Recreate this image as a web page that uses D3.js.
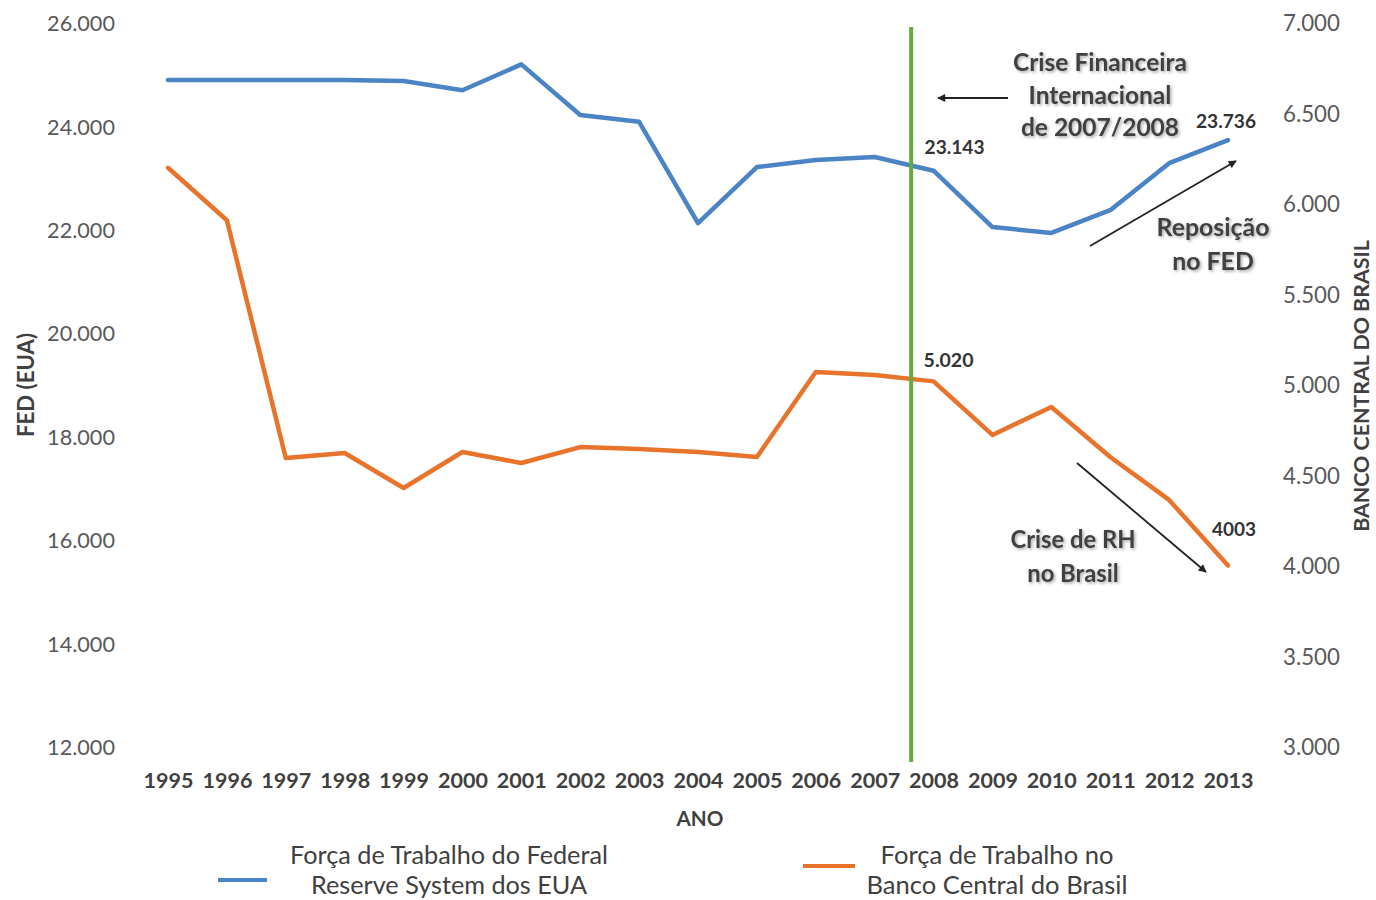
<!DOCTYPE html>
<html><head><meta charset="utf-8">
<script src="https://cdn.jsdelivr.net/npm/d3@7"></script>
<style>
html,body{margin:0;padding:0;background:#fff;}
svg{display:block;font-family:Lato,"Open Sans",sans-serif;}
</style></head><body>
<svg id="chart" width="1376" height="900"></svg>
<script>
// ---------- data ----------
const years = [1995,1996,1997,1998,1999,2000,2001,2002,2003,2004,2005,2006,2007,2008,2009,2010,2011,2012,2013];
const fedValues = [24900,24900,24900,24900,24880,24700,25200,24220,24090,22130,23215,23350,23410,23143,22055,21940,22380,23290,23736];
const bcbValues = [6200,5910,4597,4624,4431,4630,4569,4657,4646,4630,4602,5072,5055,5020,4724,4878,4602,4365,4003];
const leftTicks = [12000,14000,16000,18000,20000,22000,24000,26000];
const rightTicks = [3000,3500,4000,4500,5000,5500,6000,6500,7000];
const fedName = ["Força de Trabalho do Federal","Reserve System dos EUA"];
const bcbName = ["Força de Trabalho no","Banco Central do Brasil"];
const crisisYear = 2007.62;
const fedLabels = [{year:2008,text:"23.143"},{year:2013,text:"23.736"}];
const bcbLabels = [{year:2008,text:"5.020"},{year:2013,text:"4003"}];

// ---------- setup ----------
const svg = d3.select("#chart");
const C = {blue:"#4a84c4", orange:"#e8732a", green:"#62ad3c", tick:"#595959", dark:"#404040"};
const loc = d3.formatLocale({decimal:",",thousands:".",grouping:[3],currency:["R$",""]});
const fmt = loc.format(",d");

const x = d3.scaleLinear().domain([1995,2013]).range([168,1228]);
const yL = d3.scaleLinear().domain([12000,26000]).range([747,23]);
const yR = d3.scaleLinear().domain([3000,7000]).range([747,23]);

function fit(sel, target){
  sel.attr("font-size",20);
  const w = sel.node().getComputedTextLength();
  const s = 20*target/w;
  sel.attr("font-size",s);
  return s;
}

const defs = svg.append("defs");
const f = defs.append("filter").attr("id","sh").attr("x","-20%").attr("y","-40%").attr("width","140%").attr("height","180%");
f.append("feDropShadow").attr("dx",1.5).attr("dy",1.5).attr("stdDeviation",1.6).attr("flood-color","#000").attr("flood-opacity",0.35);
defs.append("marker").attr("id","arr").attr("viewBox","0 0 10 10").attr("refX",9).attr("refY",5)
  .attr("markerWidth",10).attr("markerHeight",8).attr("markerUnits","userSpaceOnUse").attr("orient","auto")
  .append("path").attr("d","M0,0 L10,5 L0,10 z").attr("fill","#222");

// ---------- axes ----------
const gL = svg.append("g").attr("transform","translate(115,0)")
  .call(d3.axisLeft(yL).tickValues(leftTicks).tickFormat(fmt).tickSize(0).tickPadding(0));
gL.select(".domain").remove();
gL.selectAll("text").attr("fill",C.tick).attr("font-family","Lato").attr("dy","0.35em");
const sL = fit(gL.selectAll("text").filter(d=>d===26000), 68);
gL.selectAll("text").attr("font-size",sL);

const gR = svg.append("g").attr("transform","translate(1283,0)")
  .call(d3.axisRight(yR).tickValues(rightTicks).tickFormat(fmt).tickSize(0).tickPadding(0));
gR.select(".domain").remove();
gR.selectAll("text").attr("fill",C.tick).attr("font-family","Lato").attr("dy","0.35em");
const sR = fit(gR.selectAll("text").filter(d=>d===5500), 57);
gR.selectAll("text").attr("font-size",sR);

const gB = svg.append("g").attr("transform","translate(0,780)")
  .call(d3.axisBottom(x).tickValues(years).tickFormat(d3.format("d")).tickSize(0).tickPadding(0));
gB.select(".domain").remove();
gB.selectAll("text").attr("fill",C.dark).attr("font-family","Lato").attr("font-weight",700).attr("y",0).attr("dy","0.35em");
const sB = fit(gB.selectAll("text").filter(d=>d===1995), 50);
gB.selectAll("text").attr("font-size",sB);

// axis titles
const ano = svg.append("text").attr("x",700).attr("y",819).attr("dy","0.35em").attr("text-anchor","middle")
  .attr("font-weight",700).attr("fill",C.dark).text("ANO");
fit(ano,47);
const fedT = svg.append("text").attr("transform","translate(26,385) rotate(-90)").attr("dy","0.35em")
  .attr("text-anchor","middle").attr("font-weight",700).attr("fill",C.dark).text("FED (EUA)");
fit(fedT,104);
const bcbT = svg.append("text").attr("transform","translate(1362,386) rotate(-90)").attr("dy","0.35em")
  .attr("text-anchor","middle").attr("font-weight",700).attr("fill",C.dark).text("BANCO CENTRAL DO BRASIL");
fit(bcbT,292);

// ---------- lines ----------
const lineL = d3.line().x((d,i)=>x(years[i])).y(d=>yL(d));
const lineR = d3.line().x((d,i)=>x(years[i])).y(d=>yR(d));
svg.append("path").datum(fedValues).attr("d",lineL).attr("fill","none").attr("stroke",C.blue)
  .attr("stroke-width",4.5).attr("stroke-linejoin","round").attr("stroke-linecap","round");
svg.append("path").datum(bcbValues).attr("d",lineR).attr("fill","none").attr("stroke",C.orange)
  .attr("stroke-width",4.5).attr("stroke-linejoin","round").attr("stroke-linecap","round");

// crisis marker
svg.append("line").attr("x1",x(crisisYear)).attr("x2",x(crisisYear)).attr("y1",27).attr("y2",762)
  .attr("stroke",C.green).attr("stroke-width",4);

// ---------- value labels ----------
function valLabel(px,py,t,w){
  const s = svg.append("text").attr("x",px).attr("y",py).attr("dy","0.35em").attr("text-anchor","middle")
    .attr("font-weight",700).attr("fill","#333").text(t);
  fit(s,w);
}
const idx = y => years.indexOf(y);
valLabel(x(fedLabels[0].year)+21, yL(fedValues[idx(fedLabels[0].year)])-23, fedLabels[0].text, 60);
valLabel(x(fedLabels[1].year)-2, yL(fedValues[idx(fedLabels[1].year)])-19, fedLabels[1].text, 60);
valLabel(x(bcbLabels[0].year)+15, yR(bcbValues[idx(bcbLabels[0].year)])-21, bcbLabels[0].text, 50);
valLabel(x(bcbLabels[1].year)+6, yR(bcbValues[idx(bcbLabels[1].year)])-36, bcbLabels[1].text, 44);

// ---------- annotations ----------
function block(cx, ys, lines, w0){
  const g = svg.append("g").attr("filter","url(#sh)");
  const first = g.append("text").attr("x",cx).attr("y",ys[0]).attr("dy","0.35em").attr("text-anchor","middle")
    .attr("font-weight",700).attr("fill",C.dark).text(lines[0]);
  const s = fit(first,w0);
  lines.slice(1).forEach((l,i)=>{
    g.append("text").attr("x",cx).attr("y",ys[i+1]).attr("dy","0.35em").attr("text-anchor","middle")
      .attr("font-weight",700).attr("fill",C.dark).attr("font-size",s).text(l);
  });
}
block(1100,[62,95,127],["Crise Financeira","Internacional","de 2007/2008"],174);
block(1213,[227,261],["Reposição","no FED"],113);
block(1073,[540,574],["Crise de RH","no Brasil"],125);

function arrow(x1,y1,x2,y2){
  svg.append("line").attr("x1",x1).attr("y1",y1).attr("x2",x2).attr("y2",y2)
    .attr("stroke","#222").attr("stroke-width",1.8).attr("marker-end","url(#arr)");
}
arrow(1008,98,938,98);
arrow(1090,246,1236,161);
arrow(1077,463,1206,572);

// ---------- legend ----------
function legend(lx1,lx2,ly,color,cx,lines,w0){
  svg.append("line").attr("x1",lx1).attr("x2",lx2).attr("y1",ly).attr("y2",ly)
    .attr("stroke",color).attr("stroke-width",4);
  const t1 = svg.append("text").attr("x",cx).attr("y",855).attr("dy","0.35em").attr("text-anchor","middle")
    .attr("fill",C.dark).text(lines[0]);
  const s = fit(t1,w0);
  svg.append("text").attr("x",cx).attr("y",885).attr("dy","0.35em").attr("text-anchor","middle")
    .attr("fill",C.dark).attr("font-size",s).text(lines[1]);
}
legend(218,267,880,C.blue,449,fedName,318);
legend(803,855,866,C.orange,997,bcbName,233);
</script>
</body></html>
